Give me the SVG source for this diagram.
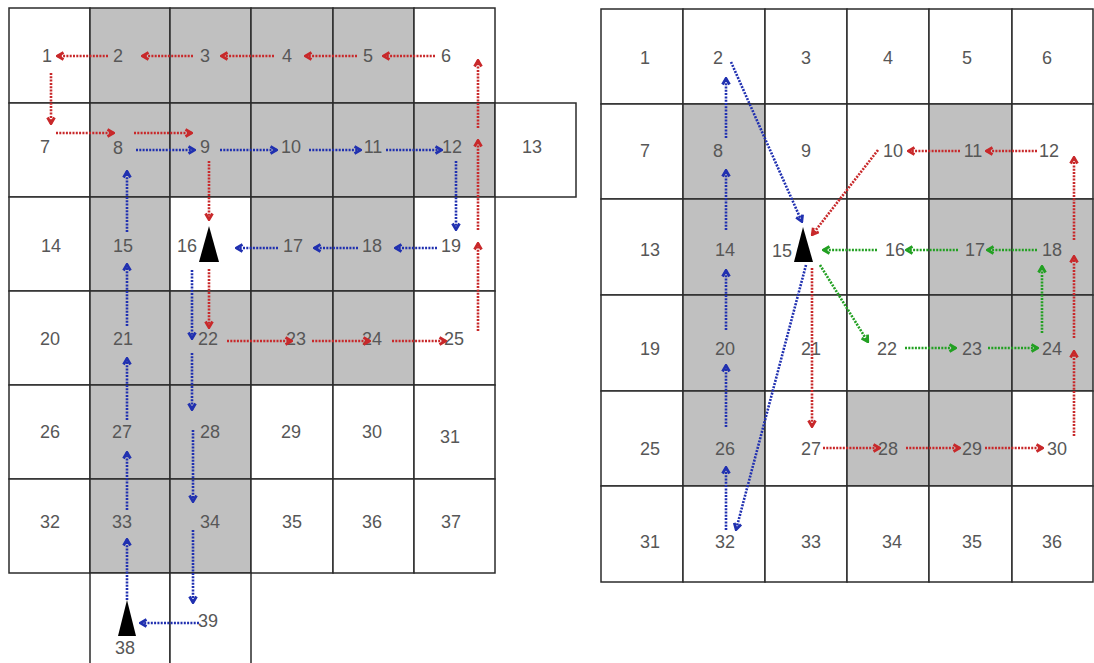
<svg xmlns="http://www.w3.org/2000/svg" width="1094" height="663" viewBox="0 0 1094 663">
<style>
.c{stroke:#2b2b2b;stroke-width:1.5}
.w{fill:#fff}
.s{fill:#c0c0c0}
text{font-family:"Liberation Sans",Arial,sans-serif;font-size:18px;fill:#575757;text-anchor:middle}
.r,.b,.g{fill:none;stroke-width:2.6;stroke-dasharray:2 1.3}
.r{stroke:#c8282a;marker-end:url(#mr)}
.b{stroke:#2030b0;marker-end:url(#mb)}
.g{stroke:#22a022;marker-end:url(#mg)}
</style>
<defs>
<marker id="mr" viewBox="0 0 10 10" refX="9" refY="5" markerWidth="10" markerHeight="10" markerUnits="userSpaceOnUse" orient="auto"><path d="M2.5,1.5 L8.5,5 L2.5,8.5" fill="none" stroke="#c8282a" stroke-width="2.8"/></marker>
<marker id="mb" viewBox="0 0 10 10" refX="9" refY="5" markerWidth="10" markerHeight="10" markerUnits="userSpaceOnUse" orient="auto"><path d="M2.5,1.5 L8.5,5 L2.5,8.5" fill="none" stroke="#2030b0" stroke-width="2.8"/></marker>
<marker id="mg" viewBox="0 0 10 10" refX="9" refY="5" markerWidth="10" markerHeight="10" markerUnits="userSpaceOnUse" orient="auto"><path d="M2.5,1.5 L8.5,5 L2.5,8.5" fill="none" stroke="#22a022" stroke-width="2.8"/></marker>
</defs>
<rect width="1094" height="663" fill="#fff"/>
<g id="left-grid">
<g id="L-cells">
<rect class="c w" x="9" y="8" width="81" height="95"/><rect class="c s" x="90" y="8" width="80" height="95"/><rect class="c s" x="170" y="8" width="81" height="95"/><rect class="c s" x="251" y="8" width="82" height="95"/><rect class="c s" x="333" y="8" width="81" height="95"/><rect class="c w" x="414" y="8" width="81" height="95"/>
<rect class="c w" x="9" y="103" width="81" height="94"/><rect class="c s" x="90" y="103" width="80" height="94"/><rect class="c s" x="170" y="103" width="81" height="94"/><rect class="c s" x="251" y="103" width="82" height="94"/><rect class="c s" x="333" y="103" width="81" height="94"/><rect class="c s" x="414" y="103" width="81" height="94"/><rect class="c w" x="495" y="103" width="81" height="94"/>
<rect class="c w" x="9" y="197" width="81" height="94"/><rect class="c s" x="90" y="197" width="80" height="94"/><rect class="c w" x="170" y="197" width="81" height="94"/><rect class="c s" x="251" y="197" width="82" height="94"/><rect class="c s" x="333" y="197" width="81" height="94"/><rect class="c w" x="414" y="197" width="81" height="94"/>
<rect class="c w" x="9" y="291" width="81" height="94"/><rect class="c s" x="90" y="291" width="80" height="94"/><rect class="c s" x="170" y="291" width="81" height="94"/><rect class="c s" x="251" y="291" width="82" height="94"/><rect class="c s" x="333" y="291" width="81" height="94"/><rect class="c w" x="414" y="291" width="81" height="94"/>
<rect class="c w" x="9" y="385" width="81" height="94"/><rect class="c s" x="90" y="385" width="80" height="94"/><rect class="c s" x="170" y="385" width="81" height="94"/><rect class="c w" x="251" y="385" width="82" height="94"/><rect class="c w" x="333" y="385" width="81" height="94"/><rect class="c w" x="414" y="385" width="81" height="94"/>
<rect class="c w" x="9" y="479" width="81" height="94"/><rect class="c s" x="90" y="479" width="80" height="94"/><rect class="c s" x="170" y="479" width="81" height="94"/><rect class="c w" x="251" y="479" width="82" height="94"/><rect class="c w" x="333" y="479" width="81" height="94"/><rect class="c w" x="414" y="479" width="81" height="94"/>
<rect class="c w" x="90" y="573" width="80" height="95"/><rect class="c w" x="170" y="573" width="81" height="95"/>
</g>
<g id="L-labels">
<text x="47" y="62">1</text><text x="118" y="62">2</text><text x="205" y="62">3</text><text x="287" y="62">4</text><text x="368" y="62">5</text><text x="446" y="62">6</text>
<text x="45" y="153">7</text><text x="118" y="154">8</text><text x="205" y="153">9</text><text x="291" y="153">10</text><text x="373" y="153">11</text><text x="452" y="153">12</text><text x="532" y="153">13</text>
<text x="51" y="252">14</text><text x="123" y="252">15</text><text x="187" y="252">16</text><text x="293" y="252">17</text><text x="372" y="252">18</text><text x="451" y="252">19</text>
<text x="50" y="345">20</text><text x="123" y="345">21</text><text x="208" y="345">22</text><text x="296" y="345">23</text><text x="372" y="345">24</text><text x="454" y="345">25</text>
<text x="50" y="438">26</text><text x="122" y="438">27</text><text x="210" y="438">28</text><text x="291" y="438">29</text><text x="372" y="438">30</text><text x="450" y="443">31</text>
<text x="50" y="528">32</text><text x="122" y="528">33</text><text x="210" y="528">34</text><text x="292" y="528">35</text><text x="372" y="528">36</text><text x="451" y="528">37</text>
<text x="125" y="654">38</text><text x="208" y="627">39</text>
</g>
<g id="L-robot-16"><polygon points="209,226 199,262 219,262" fill="#000"/></g>
<g id="L-robot-38"><polygon points="127,600 118,636 136,636" fill="#000"/></g>
</g>
<g id="right-grid">
<g id="R-cells">
<rect class="c w" x="601" y="9" width="82" height="95"/><rect class="c w" x="683" y="9" width="82" height="95"/><rect class="c w" x="765" y="9" width="82" height="95"/><rect class="c w" x="847" y="9" width="82" height="95"/><rect class="c w" x="929" y="9" width="83" height="95"/><rect class="c w" x="1012" y="9" width="81" height="95"/>
<rect class="c w" x="601" y="104" width="82" height="95"/><rect class="c s" x="683" y="104" width="82" height="95"/><rect class="c w" x="765" y="104" width="82" height="95"/><rect class="c w" x="847" y="104" width="82" height="95"/><rect class="c s" x="929" y="104" width="83" height="95"/><rect class="c w" x="1012" y="104" width="81" height="95"/>
<rect class="c w" x="601" y="199" width="82" height="96"/><rect class="c s" x="683" y="199" width="82" height="96"/><rect class="c w" x="765" y="199" width="82" height="96"/><rect class="c w" x="847" y="199" width="82" height="96"/><rect class="c s" x="929" y="199" width="83" height="96"/><rect class="c s" x="1012" y="199" width="81" height="96"/>
<rect class="c w" x="601" y="295" width="82" height="96"/><rect class="c s" x="683" y="295" width="82" height="96"/><rect class="c w" x="765" y="295" width="82" height="96"/><rect class="c w" x="847" y="295" width="82" height="96"/><rect class="c s" x="929" y="295" width="83" height="96"/><rect class="c s" x="1012" y="295" width="81" height="96"/>
<rect class="c w" x="601" y="391" width="82" height="95"/><rect class="c s" x="683" y="391" width="82" height="95"/><rect class="c w" x="765" y="391" width="82" height="95"/><rect class="c s" x="847" y="391" width="82" height="95"/><rect class="c s" x="929" y="391" width="83" height="95"/><rect class="c w" x="1012" y="391" width="81" height="95"/>
<rect class="c w" x="601" y="486" width="82" height="96"/><rect class="c w" x="683" y="486" width="82" height="96"/><rect class="c w" x="765" y="486" width="82" height="96"/><rect class="c w" x="847" y="486" width="82" height="96"/><rect class="c w" x="929" y="486" width="83" height="96"/><rect class="c w" x="1012" y="486" width="81" height="96"/>
</g>
<g id="R-labels">
<text x="645" y="64">1</text><text x="718" y="64">2</text><text x="806" y="64">3</text><text x="888" y="64">4</text><text x="967" y="64">5</text><text x="1047" y="64">6</text>
<text x="645" y="157">7</text><text x="718" y="157">8</text><text x="806" y="157">9</text><text x="893" y="157">10</text><text x="973" y="157">11</text><text x="1049" y="157">12</text>
<text x="650" y="256">13</text><text x="725" y="256">14</text><text x="782" y="257">15</text><text x="895" y="256">16</text><text x="975" y="256">17</text><text x="1052" y="256">18</text>
<text x="650" y="355">19</text><text x="725" y="355">20</text><text x="811" y="355">21</text><text x="887" y="355">22</text><text x="972" y="355">23</text><text x="1052" y="355">24</text>
<text x="650" y="455">25</text><text x="725" y="455">26</text><text x="811" y="455">27</text><text x="888" y="455">28</text><text x="972" y="455">29</text><text x="1057" y="455">30</text>
<text x="650" y="548">31</text><text x="725" y="548">32</text><text x="811" y="548">33</text><text x="892" y="548">34</text><text x="972" y="548">35</text><text x="1052" y="548">36</text>
</g>
<g id="R-robot-15"><polygon points="803,227 794,262 813,262" fill="#000"/></g>
</g>
<g id="connectors">
<path class="r" d="M108,56 H57"/><path class="r" d="M193,56 H142"/><path class="r" d="M274,56 H221"/><path class="r" d="M357,56 H305"/><path class="r" d="M435,56 H383"/>
<path class="r" d="M51,73 V124"/><path class="r" d="M56,133 H114"/><path class="r" d="M134,133 H192"/>
<path class="r" d="M209,161 V220"/><path class="r" d="M209,269 V328"/>
<path class="r" d="M227,341 H292"/><path class="r" d="M312,341 H370"/><path class="r" d="M392,341 H446"/>
<path class="r" d="M478,331 V243"/><path class="r" d="M478,230 V140"/><path class="r" d="M478,128 V60"/>
<path class="b" d="M136,150 H195"/><path class="b" d="M220,150 H277"/><path class="b" d="M309,150 H361"/><path class="b" d="M386,150 H442"/>
<path class="b" d="M456,161 V230"/><path class="b" d="M437,248 H395"/><path class="b" d="M358,248 H314"/><path class="b" d="M278,248 H236"/>
<path class="b" d="M192,270 V339"/><path class="b" d="M192,353 V410"/><path class="b" d="M193,430 V502"/><path class="b" d="M193,530 V603"/>
<path class="b" d="M199,623 H140"/>
<path class="b" d="M127,600 V539"/><path class="b" d="M127,510 V452"/><path class="b" d="M127,420 V358"/><path class="b" d="M127,326 V264"/><path class="b" d="M127,232 V171"/>
<path class="b" d="M726,530 V467"/><path class="b" d="M726,427 V365"/><path class="b" d="M726,330 V270"/><path class="b" d="M726,230 V170"/><path class="b" d="M726,138 V78"/>
<path class="b" d="M731,62 L802,222"/><path class="b" d="M806,265 L736,530"/>
<path class="r" d="M1037,151 H986"/><path class="r" d="M960,151 H908"/><path class="r" d="M878,150 L812,235"/>
<path class="r" d="M812,268 V427"/><path class="r" d="M823,448 H880"/><path class="r" d="M906,448 H960"/><path class="r" d="M985,448 H1043"/>
<path class="r" d="M1074,436 V351"/><path class="r" d="M1074,338 V256"/><path class="r" d="M1074,240 V157"/>
<path class="g" d="M1037,250 H987"/><path class="g" d="M958,250 H906"/><path class="g" d="M877,250 H823"/>
<path class="g" d="M820,265 L868,342"/><path class="g" d="M905,348 H956"/><path class="g" d="M988,348 H1038"/><path class="g" d="M1042,333 V266"/>
</g>
</svg>
